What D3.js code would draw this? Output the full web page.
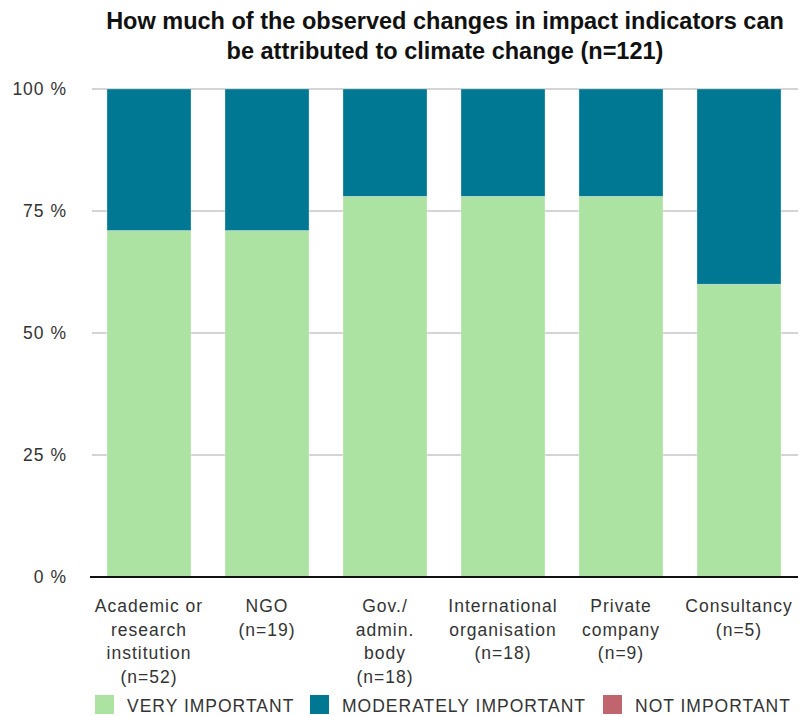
<!DOCTYPE html>
<html>
<head>
<meta charset="utf-8">
<script src="https://cdn.jsdelivr.net/npm/d3@7/dist/d3.min.js"></script>
<style>
  body { margin: 0; background: #fff; }
  text { font-family: "Liberation Sans", Arial, sans-serif; }
</style>
</head>
<body>
<div id="chart"></div>
<script>
// data
var categories = [
  ["Academic or", "research", "institution", "(n=52)"],
  ["NGO", "(n=19)"],
  ["Gov./", "admin.", "body", "(n=18)"],
  ["International", "organisation", "(n=18)"],
  ["Private", "company", "(n=9)"],
  ["Consultancy", "(n=5)"]
];
var veryImportant = [71, 71, 78, 78, 78, 60];
var moderatelyImportant = [29, 29, 22, 22, 22, 40];
var notImportant = [0, 0, 0, 0, 0, 0];
var seriesNames = ["VERY IMPORTANT", "MODERATELY IMPORTANT", "NOT IMPORTANT"];
var seriesColors = ["#ace3a2", "#007793", "#c0646d"];
var yTicks = [0, 25, 50, 75, 100];

function buildChart(containerId) {
  var width = 799;
  var height = 716;

  var margin = { top: 89, right: 1, bottom: 139, left: 90 };
  var innerWidth = width - margin.left - margin.right;
  var innerHeight = height - margin.top - margin.bottom;

  var svg = d3.select(containerId)
    .append('svg')
    .attr('width', width)
    .attr('height', height);

  // title
  var title = svg.append('text')
    .attr('text-anchor', 'middle')
    .style('font-weight', 'bold')
    .style('font-size', '23.5px')
    .style('fill', '#111');
  title.append('tspan').attr('x', 445).attr('y', 29)
    .text('How much of the observed changes in impact indicators can');
  title.append('tspan').attr('x', 445).attr('y', 59)
    .text('be attributed to climate change (n=121)');

  var g = svg.append('g')
    .attr('transform', 'translate(' + margin.left + ',' + margin.top + ')');

  var x = d3.scaleBand()
    .domain(d3.range(categories.length))
    .range([0, innerWidth])
    .paddingInner(0.288)
    .paddingOuter(0.144);

  var y = d3.scaleLinear()
    .domain([0, 100])
    .range([innerHeight, 0]);

  // gridlines
  g.selectAll('.grid')
    .data(yTicks.filter(function(d) { return d > 0; }))
    .enter()
    .append('line')
    .attr('class', 'grid')
    .attr('x1', 2)
    .attr('x2', innerWidth)
    .attr('y1', function(d) { return y(d); })
    .attr('y2', function(d) { return y(d); })
    .attr('stroke', '#c6c6c6')
    .attr('stroke-width', 1.5);

  // y labels
  g.selectAll('.ylab')
    .data(yTicks)
    .enter()
    .append('text')
    .attr('class', 'ylab')
    .attr('x', -23)
    .attr('y', function(d) { return y(d); })
    .attr('dy', '0.35em')
    .attr('text-anchor', 'end')
    .style('font-size', '17.5px')
    .style('letter-spacing', '1px')
    .style('fill', '#333')
    .text(function(d) { return d + ' %'; });

  // stack the series
  var rows = categories.map(function(c, i) {
    return { i: i, s0: veryImportant[i], s1: moderatelyImportant[i], s2: notImportant[i] };
  });
  var stack = d3.stack().keys(['s0', 's1', 's2']);
  var stacked = stack(rows);

  var layer = g.selectAll('.layer')
    .data(stacked)
    .enter()
    .append('g')
    .attr('class', 'layer')
    .attr('fill', function(d, i) { return seriesColors[i]; });

  layer.selectAll('rect')
    .data(function(d) { return d; })
    .enter()
    .append('rect')
    .attr('x', function(d) { return x(d.data.i); })
    .attr('width', x.bandwidth())
    .attr('y', function(d) { return y(d[1]); })
    .attr('height', function(d) { return y(d[0]) - y(d[1]); })
    .attr('stroke', '#ffffff')
    .attr('stroke-opacity', 0.35)
    .attr('stroke-width', 0.8);

  // baseline
  g.append('line')
    .attr('x1', 0)
    .attr('x2', innerWidth)
    .attr('y1', innerHeight)
    .attr('y2', innerHeight)
    .attr('stroke', '#111')
    .attr('stroke-width', 2);

  // category labels
  var xl = g.selectAll('.xlab')
    .data(categories)
    .enter()
    .append('text')
    .attr('class', 'xlab')
    .attr('text-anchor', 'middle')
    .style('font-size', '17.5px')
    .style('letter-spacing', '1px')
    .style('fill', '#333');

  xl.selectAll('tspan')
    .data(function(d, i) { return d.map(function(t) { return { t: t, i: i }; }); })
    .enter()
    .append('tspan')
    .attr('x', function(d) { return x(d.i) + x.bandwidth() / 2; })
    .attr('y', function(d, j) { return innerHeight + 35 + j * 23.5; })
    .text(function(d) { return d.t; });

  // legend
  var legendX = [95, 310, 603];
  var legend = svg.selectAll('.legend')
    .data(seriesNames)
    .enter()
    .append('g')
    .attr('class', 'legend')
    .attr('transform', function(d, i) { return 'translate(' + legendX[i] + ',695)'; });

  legend.append('rect')
    .attr('width', 19)
    .attr('height', 19)
    .attr('fill', function(d, i) { return seriesColors[i]; });

  legend.append('text')
    .attr('x', 32)
    .attr('y', 17)
    .style('font-size', '17.5px')
    .style('letter-spacing', '1px')
    .style('fill', '#333')
    .text(function(d) { return d; });
}

buildChart('#chart');
</script>
</body>
</html>
